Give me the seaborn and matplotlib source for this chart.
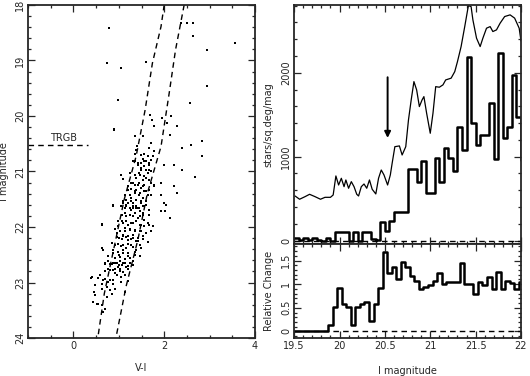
import numpy as np
import matplotlib
matplotlib.use('Agg')
import matplotlib.pyplot as plt
from matplotlib.ticker import MultipleLocator
import seaborn as sns

# colour-magnitude diagram: V-I colour and I magnitude of each star
vi = [0.78, 1.04, 0.73, 0.98, 0.89, 1.60, 2.36, 2.51, 2.64, 2.64, 2.95, 3.57, 2.95, 2.57, 2.16,
      2.28, 2.13, 2.40, 2.60, 2.84, 2.84, 2.22, 2.40, 2.67, 2.22, 2.28, 2.04, 2.02, 2.13, 1.69,
      1.74, 1.78, 1.96, 2.07, 1.53, 0.62, 0.64, 0.38,
      0.89, 1.35, 1.72, 1.40, 1.38, 1.67, 1.78, 1.35, 1.48, 1.56, 1.64, 1.75, 1.53, 1.60, 1.67,
      1.49, 1.71, 1.35, 1.42, 1.56, 1.67, 1.49, 1.24, 1.35, 1.45, 1.64, 1.05, 1.09, 1.38, 1.53,
      1.60, 1.27, 1.35, 1.45, 1.56, 1.71, 1.78, 1.20, 1.27, 1.38, 1.49, 1.60, 1.67, 1.13, 1.24,
      1.35, 1.45, 1.53, 1.64, 1.16, 1.27, 1.38, 1.49, 1.60, 0.87, 1.05, 1.16, 1.24, 1.31, 1.38,
      1.45, 1.53,
      0.87, 1.09, 1.20, 1.31, 1.49, 1.60, 1.13, 1.27, 1.38, 1.46, 1.53, 1.67, 1.06, 1.16, 1.31,
      1.42, 1.56, 0.62, 0.98, 1.09, 1.20, 1.31, 1.46, 1.56, 1.67, 0.91, 1.02, 1.13, 1.24, 1.35,
      1.49, 1.60, 0.95, 1.06, 1.16, 1.27, 1.38, 1.53, 1.64, 0.84, 0.98, 1.09, 1.20, 1.31, 1.46,
      0.87, 0.98, 1.09, 1.20, 1.35, 0.76, 0.91, 1.02, 1.13, 1.24, 0.69, 0.84, 0.95, 1.06, 1.16,
      0.76, 0.91, 1.02,
      0.69, 0.80, 0.91, 1.02, 1.13, 1.24, 1.31, 0.76, 0.87, 0.98, 1.09, 1.20, 0.40, 0.58, 0.69,
      0.80, 0.95, 1.05, 1.20, 0.62, 0.73, 0.87, 0.91, 0.46, 0.84, 1.13, 0.44, 0.51, 0.62, 0.69,
      0.65,
      1.31, 1.42, 1.56, 1.67, 1.49, 1.60, 1.71, 1.24, 1.35, 1.46, 1.56, 2.00, 1.93, 1.67, 1.78,
      1.31, 1.42, 1.53, 1.20, 1.35, 1.46, 1.56, 1.71, 1.93, 1.27, 1.38, 1.49, 1.09, 1.16, 1.31,
      1.42, 1.56, 1.67, 2.00, 0.87, 1.13, 1.24, 1.35, 1.46, 1.53, 1.93, 1.06, 1.16, 1.27, 1.38,
      1.49, 1.64, 0.98, 1.13, 1.24, 1.35, 1.46, 1.75, 0.95, 1.09, 1.20, 1.31, 1.42, 1.71,
      1.00, 1.09, 1.20, 1.31, 1.42, 1.53, 0.91, 1.05, 1.16, 1.27, 1.38, 1.49, 0.87, 1.00, 1.09,
      1.20, 1.35, 1.46, 0.65, 0.76, 0.87, 1.00, 1.09, 1.20, 1.31, 0.69, 0.80, 0.91, 1.02, 1.13,
      0.55, 0.65, 0.76, 0.87, 1.05, 0.47, 0.62, 0.80, 0.91, 0.47, 0.73, 0.55]
imag = [18.41, 19.14, 19.04, 19.71, 20.24, 19.02, 18.32, 18.32, 18.32, 18.56, 18.81, 18.68, 19.46, 19.76, 20.01,
        20.19, 20.34, 20.57, 20.52, 20.46, 20.73, 20.88, 20.97, 21.10, 21.26, 21.38, 21.60, 21.72, 21.84, 19.98,
        20.07, 20.18, 20.04, 20.12, 20.37, 21.96, 22.38, 22.91,
        20.26, 20.36, 20.49, 20.55, 20.61, 20.58, 20.64, 20.69, 20.70, 20.69, 20.73, 20.72, 20.78, 20.82, 20.85,
        20.85, 20.79, 20.82, 20.88, 20.91, 20.97, 20.97, 21.03, 21.06, 21.03, 21.03, 21.06, 21.14, 21.12, 21.15,
        21.11, 21.21, 21.24, 21.21, 21.24, 21.21, 21.26, 21.27, 21.32, 21.33, 21.30, 21.36, 21.33, 21.42, 21.42,
        21.39, 21.42, 21.48, 21.42, 21.51, 21.54, 21.51, 21.57, 21.54, 21.62, 21.62, 21.60, 21.65, 21.66, 21.62,
        21.66, 21.62,
        21.60, 21.54, 21.57, 21.56, 21.54, 21.60, 21.66, 21.69, 21.66, 21.72, 21.75, 21.78, 21.78, 21.81, 21.81,
        21.84, 21.87, 21.95, 21.90, 21.93, 21.96, 21.93, 21.96, 21.99, 21.96, 22.04, 22.07, 22.08, 22.04, 22.08,
        22.07, 22.11, 22.18, 22.22, 22.18, 22.22, 22.25, 22.22, 22.27, 22.28, 22.30, 22.33, 22.30, 22.36, 22.33,
        22.42, 22.45, 22.42, 22.46, 22.45, 22.52, 22.55, 22.54, 22.58, 22.55, 22.66, 22.67, 22.64, 22.69, 22.72,
        22.75, 22.76, 22.75,
        22.65, 22.67, 22.64, 22.62, 22.65, 22.64, 22.61, 22.75, 22.78, 22.72, 22.81, 22.75, 22.90, 22.87, 22.93,
        22.96, 22.87, 22.90, 22.97, 23.03, 23.08, 23.02, 23.12, 23.17, 23.20, 23.17, 23.36, 23.38, 23.41, 23.47,
        23.53,
        20.82, 20.85, 20.82, 20.88, 20.94, 20.97, 21.00, 21.03, 21.06, 21.06, 21.09, 20.88, 21.21, 21.15, 21.24,
        21.21, 21.24, 21.27, 21.33, 21.36, 21.39, 21.36, 21.42, 21.42, 21.48, 21.51, 21.54, 21.57, 21.63, 21.63,
        21.66, 21.63, 21.69, 21.57, 21.63, 21.75, 21.78, 21.75, 21.81, 21.78, 21.72, 21.90, 21.90, 21.93, 21.90,
        21.96, 21.93, 21.99, 22.02, 22.05, 22.05, 22.08, 21.99, 22.11, 22.14, 22.17, 22.14, 22.20, 22.08,
        22.20, 22.17, 22.23, 22.20, 22.26, 22.17, 22.32, 22.35, 22.38, 22.32, 22.41, 22.38, 22.47, 22.50, 22.47,
        22.53, 22.50, 22.53, 22.41, 22.62, 22.65, 22.68, 22.65, 22.71, 22.68, 22.80, 22.77, 22.83, 22.80, 22.86,
        22.92, 22.96, 22.99, 22.96, 22.99, 23.05, 23.11, 23.14, 23.11, 23.23, 23.26, 23.39]

# dashed selection boundaries in the CMD
blue_edge_vi = [2.00, 1.93, 1.74, 1.58, 1.38, 1.12, 0.90, 0.68, 0.54]
blue_edge_mag = [18.00, 18.39, 19.05, 19.89, 20.73, 21.50, 22.35, 23.20, 23.98]
red_edge_vi = [2.44, 2.25, 2.11, 1.93, 1.63, 1.42, 1.16, 0.94]
red_edge_mag = [18.00, 18.81, 19.59, 20.55, 21.39, 22.23, 23.07, 23.98]

trgb = 20.53
trgb_line_vi = [-1.0, 0.33]

# smoothed luminosity function (stars/sq.deg/mag)
lf_mag = [19.51, 19.56, 19.62, 19.67, 19.73, 19.79, 19.84, 19.90, 19.93, 19.96, 19.99, 20.02, 20.05, 20.07,
          20.10, 20.13, 20.16, 20.19, 20.21, 20.24, 20.27, 20.30, 20.33, 20.36, 20.40, 20.43, 20.46, 20.49,
          20.53, 20.56, 20.58, 20.61, 20.66, 20.69, 20.73, 20.76, 20.79, 20.82, 20.85, 20.88, 20.91, 20.93,
          20.96, 21.00, 21.03, 21.06, 21.10, 21.14, 21.17, 21.23, 21.27, 21.30, 21.34, 21.38, 21.42, 21.45,
          21.47, 21.51, 21.55, 21.58, 21.62, 21.66, 21.69, 21.73, 21.77, 21.82, 21.88, 21.93, 21.98, 22.00]
lf_val = [531, 492, 523, 551, 523, 492, 515, 515, 543, 770, 662, 742, 642, 722,
          623, 702, 642, 551, 531, 642, 674, 623, 722, 611, 555, 742, 841, 782,
          662, 782, 921, 1119, 1128, 1020, 1119, 1438, 1677, 1895, 1796, 1597, 1677, 1716,
          1518, 1279, 1518, 1835, 1828, 1856, 1915, 1936, 2014, 2134, 2313, 2551, 2800, 2790,
          2631, 2413, 2313, 2413, 2532, 2551, 2492, 2512, 2592, 2671, 2691, 2652, 2532, 2380]

# binned luminosity function, 0.05 mag bins starting at 19.50
hist_start = 19.50
hist_width = 0.05
hist_counts = [25, 10, 30, 10, 25, 10, 0, 25, 0,
               105, 105, 105, 0, 105, 0, 105, 105, 15, 10,
               224, 110, 236, 344, 344, 344,
               853, 853, 702, 952, 570, 570, 981, 702, 1100, 981, 833, 1351, 1080, 2193,
               1399, 1140, 1259, 1259, 1637, 969, 2241, 1220, 1351, 1975, 1470, 960]

# relative change, 0.05 mag bins starting at 19.475
rel_start = 19.475
rel_width = 0.05
rel_change = [0, 0, 0, 0, 0, 0, 0, 0,
              0.14, 0.52, 0.92, 0.57, 0.52, 0.14, 0.52, 0.57, 0.62, 0.21, 0.57, 0.92,
              1.68, 1.24, 1.37, 1.11, 1.47, 1.37, 1.17, 1.06, 0.90, 0.94, 0.99, 1.06,
              1.23, 1.01, 1.04, 1.05, 1.04, 1.44, 1.01, 1.01, 0.80, 1.04, 0.99, 1.16,
              0.90, 1.26, 0.89, 1.06, 1.02, 0.89, 1.04]


def steps(start, width, vals):
    edges = start + width * np.arange(len(vals) + 1)
    return edges, np.append(vals, vals[-1])


def style(ax):
    ax.tick_params(which='both', direction='in', top=True, right=True, width=0.9, pad=2)
    ax.tick_params(which='major', length=5)
    ax.tick_params(which='minor', length=2.5)
    ax.tick_params(axis='y', labelrotation=90)
    for lab in ax.get_yticklabels():
        lab.set_va('center')
    for s in ax.spines.values():
        s.set_linewidth(1.3)


sns.set_style('ticks')
plt.rcParams['font.family'] = ['DejaVu Sans']
plt.rcParams.update({'font.size': 7})

fig = plt.figure(figsize=(5.30, 3.76), dpi=100)
ax1 = fig.add_axes([0.053, 0.101, 0.428, 0.886])
ax2 = fig.add_axes([0.555, 0.351, 0.428, 0.636])
ax3 = fig.add_axes([0.555, 0.101, 0.428, 0.250])

dash = (0, (4, 3))

# ---- CMD ----
sns.scatterplot(x=vi, y=imag, ax=ax1, marker='s', s=4, color='black', linewidth=0)
sns.lineplot(x=blue_edge_vi, y=blue_edge_mag, ax=ax1, sort=False, color='black', lw=1, linestyle=dash)
sns.lineplot(x=red_edge_vi, y=red_edge_mag, ax=ax1, sort=False, color='black', lw=1, linestyle=dash)
sns.lineplot(x=trgb_line_vi, y=[trgb, trgb], ax=ax1, sort=False, color='black', lw=1, linestyle=dash)
ax1.text(-0.22, trgb - 0.05, 'TRGB', ha='center', va='bottom', fontsize=7)
ax1.set_xlim(-1, 4)
ax1.set_ylim(24, 18)
ax1.xaxis.set_major_locator(MultipleLocator(2))
ax1.xaxis.set_minor_locator(MultipleLocator(0.5))
ax1.yaxis.set_major_locator(MultipleLocator(1))
ax1.yaxis.set_minor_locator(MultipleLocator(0.2))
ax1.set_xlabel('V-I')
ax1.set_ylabel('I magnitude')
ax1.xaxis.set_label_coords(0.5, -0.075)
ax1.yaxis.set_label_coords(-0.085, 0.5)
style(ax1)

# ---- luminosity function ----
ex, ey = steps(hist_start, hist_width, hist_counts)
sns.lineplot(x=lf_mag, y=lf_val, ax=ax2, sort=False, color='black', lw=0.9)
ax2.axhline(0, color='black', lw=1, linestyle=dash)
sns.lineplot(x=ex, y=ey, ax=ax2, sort=False, estimator=None, color='black', lw=1.8,
             drawstyle='steps-post')
ax2.annotate('', xy=(trgb, 1190), xytext=(trgb, 1980),
             arrowprops=dict(arrowstyle='-|>', color='black', lw=1.4, mutation_scale=9))
ax2.set_xlim(19.5, 22)
ax2.set_ylim(-42, 2810)
ax2.xaxis.set_major_locator(MultipleLocator(0.5))
ax2.xaxis.set_minor_locator(MultipleLocator(0.1))
ax2.yaxis.set_major_locator(MultipleLocator(1000))
ax2.yaxis.set_minor_locator(MultipleLocator(200))
ax2.tick_params(labelbottom=False)
ax2.set_ylabel('stars/sq.deg/mag')
ax2.yaxis.set_label_coords(-0.09, 0.5)
style(ax2)

# ---- relative change ----
rx, ry = steps(rel_start, rel_width, rel_change)
ax3.axhline(0, color='black', lw=1, linestyle=dash)
sns.lineplot(x=rx, y=ry, ax=ax3, sort=False, estimator=None, color='black', lw=1.8,
             drawstyle='steps-post')
ax3.set_xlim(19.5, 22)
ax3.set_ylim(-0.14, 1.85)
ax3.xaxis.set_major_locator(MultipleLocator(0.5))
ax3.xaxis.set_minor_locator(MultipleLocator(0.1))
ax3.yaxis.set_major_locator(MultipleLocator(0.5))
ax3.yaxis.set_minor_locator(MultipleLocator(0.1))
ax3.set_yticks([0, 0.5, 1, 1.5])
ax3.set_yticklabels(['0', '0.5', '1', '1.5'])
ax3.set_xticks([19.5, 20, 20.5, 21, 21.5, 22])
ax3.set_xticklabels(['19.5', '20', '20.5', '21', '21.5', '22'])
ax3.set_xlabel('I magnitude')
ax3.set_ylabel('Relative Change')
ax3.xaxis.set_label_coords(0.5, -0.3)
ax3.yaxis.set_label_coords(-0.09, 0.5)
style(ax3)

fig.savefig('out.png', dpi=100)
